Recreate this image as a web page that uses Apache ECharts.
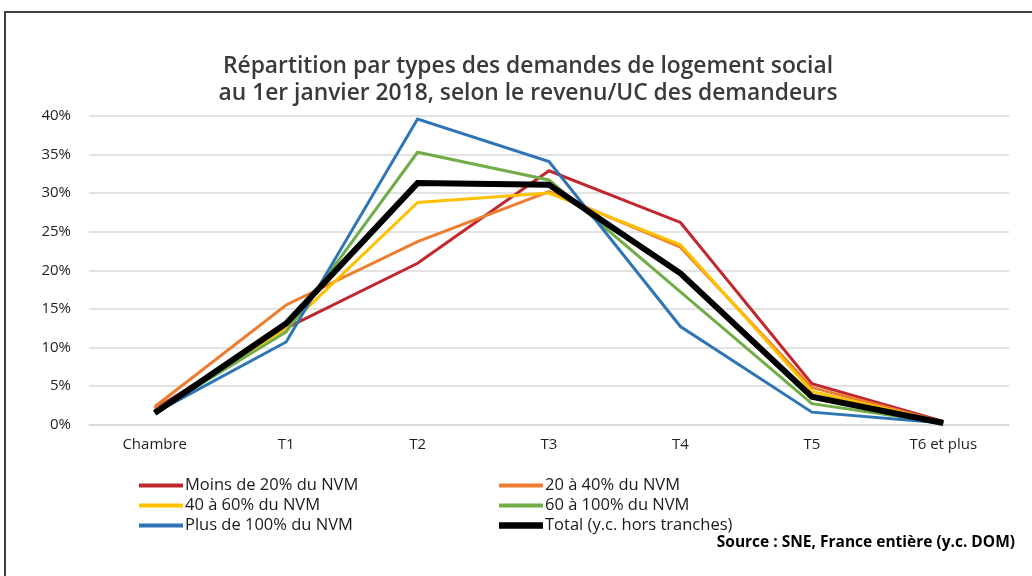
<!DOCTYPE html>
<html>
<head>
<meta charset="utf-8">
<script src="https://cdn.jsdelivr.net/npm/echarts@6/dist/echarts.min.js"></script>
<style>
  html, body { margin: 0; padding: 0; background: #fff; }
  #chart { width: 1032px; height: 576px; }
</style>
</head>
<body>
<div id="chart"></div>
<script>
// Categories (types de logement)
const categories = ["Chambre", "T1", "T2", "T3", "T4", "T5", "T6 et plus"];

// Values in %
const moins20 = [2.0, 12.5, 20.9, 32.9, 26.2, 5.3, 0.4];
const de20a40 = [2.3, 15.5, 23.7, 30.2, 23.0, 4.8, 0.3];
const de40a60 = [1.8, 12.5, 28.8, 30.0, 23.3, 4.3, 0.3];
const de60a100 = [1.6, 12.0, 35.3, 31.7, 17.2, 2.7, 0.2];
const plus100 = [1.5, 10.7, 39.6, 34.1, 12.7, 1.6, 0.2];
const total = [1.5, 13.1, 31.3, 31.1, 19.6, 3.6, 0.2];

const seriesNames = [
  "Moins de 20% du NVM",
  "20 à 40% du NVM",
  "40 à 60% du NVM",
  "60 à 100% du NVM",
  "Plus de 100% du NVM",
  "Total (y.c. hors tranches)"
];
const seriesValues = [moins20, de20a40, de40a60, de60a100, plus100, total];
const seriesColors = ["#C0282D", "#ED7D31", "#FFC000", "#70AD47", "#2E75B6", "#000000"];

const yTicks = [0, 5, 10, 15, 20, 25, 30, 35, 40];

const chart = echarts.init(document.getElementById("chart"), null, { renderer: "canvas" });

const thinIcon = "path://M0,0h44v4h-44z";
const thickIcon = "path://M0,0h44v6.5h-44z";

const series = seriesNames.map((name, i) => ({
  name: name,
  type: "line",
  data: seriesValues[i],
  symbol: "none",
  z: i === 5 ? 10 : 2 + i,
  lineStyle: { color: seriesColors[i], width: i === 5 ? 6 : 3, join: "miter" },
  itemStyle: { color: seriesColors[i] },
  emphasis: { disabled: true }
}));

const legendText = { fontFamily: "Open Sans", fontSize: 16.5, color: "#1a1a1a", padding: [0, 0, 0, -3] };

const options = {
  backgroundColor: "#fff",
  animation: false,
  title: {
    text: "Répartition par types des demandes de logement social\nau 1er janvier 2018, selon le revenu/UC des demandeurs",
    left: 523,
    top: 48,
    textAlign: "center",
    textStyle: {
      fontFamily: "Open Sans",
      fontSize: 22.8,
      fontWeight: 600,
      color: "#3a3a3a",
      lineHeight: 27
    }
  },
  grid: { left: 89, right: 23, top: 116, bottom: 151.5 },
  xAxis: {
    type: "category",
    data: categories,
    boundaryGap: true,
    axisTick: { show: false },
    axisLine: { lineStyle: { color: "#d9d9d9", width: 1.5 } },
    axisLabel: { fontFamily: "Open Sans", fontSize: 15, color: "#1f1f1f", margin: 13 }
  },
  yAxis: {
    type: "value",
    min: yTicks[0],
    max: yTicks[yTicks.length - 1],
    interval: 5,
    axisLine: { show: false },
    axisTick: { show: false },
    splitLine: { lineStyle: { color: "#d9d9d9", width: 1.5 } },
    axisLabel: {
      fontFamily: "Open Sans",
      fontSize: 15,
      color: "#1f1f1f",
      margin: 18,
      formatter: (v) => v + "%"
    }
  },
  legend: [
    {
      orient: "vertical",
      left: 139,
      top: 477,
      padding: 0,
      itemWidth: 44,
      itemHeight: 6.5,
      itemGap: 3,
      icon: thinIcon,
      selectedMode: false,
      textStyle: legendText,
      data: [seriesNames[0], seriesNames[2], seriesNames[4]]
    },
    {
      orient: "vertical",
      left: 499,
      top: 477,
      padding: 0,
      itemWidth: 44,
      itemHeight: 6.5,
      itemGap: 3,
      icon: thinIcon,
      selectedMode: false,
      textStyle: legendText,
      data: [
        { name: seriesNames[1] },
        { name: seriesNames[3] },
        { name: seriesNames[5], icon: thickIcon }
      ]
    }
  ],
  graphic: [
    {
      type: "rect",
      shape: { x: 5, y: 12, width: 1100, height: 700 },
      style: { fill: "none", stroke: "#404040", lineWidth: 2 },
      silent: true
    },
    {
      type: "text",
      right: 17,
      top: 535,
      style: {
        text: "Source : SNE, France entière (y.c. DOM)",
        fontFamily: "Open Sans",
        fontSize: 15.5,
        fontWeight: "bold",
        fill: "#000"
      }
    }
  ],
  series: series
};

chart.setOption(options);
</script>
</body>
</html>
